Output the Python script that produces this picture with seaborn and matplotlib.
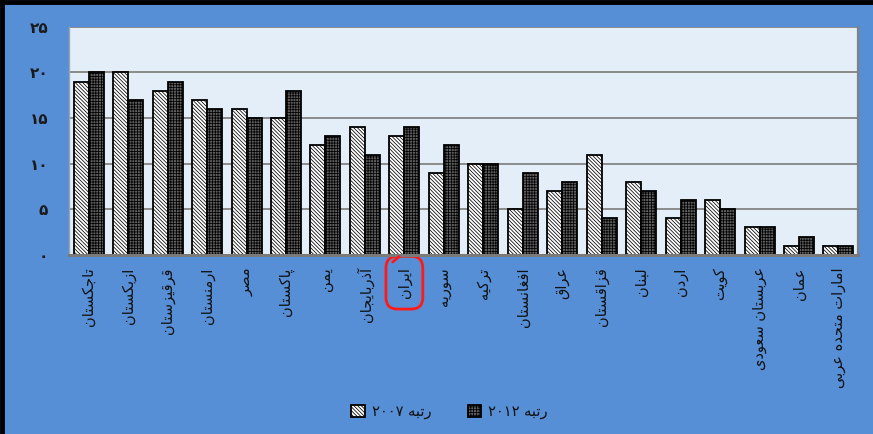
import re
import matplotlib
matplotlib.use("Agg")
import matplotlib.pyplot as plt
import seaborn as sns
import pandas as pd
from matplotlib.lines import Line2D

# ---------------- data ----------------
countries = ["تاجکستان", "ازبکستان", "قرقیزستان", "ارمنستان", "مصر", "پاکستان",
             "یمن", "آذربایجان", "ایران", "سوریه", "ترکیه", "افغانستان", "عراق",
             "قزاقستان", "لبنان", "اردن", "کویت", "عربستان سعودی", "عمان",
             "امارات متحده عربی"]
rank_2007 = [19, 20, 18, 17, 16, 15, 12, 14, 13, 9, 10, 5, 7, 11, 8, 4, 6, 3, 1, 1]
rank_2012 = [20, 17, 19, 16, 15, 18, 13, 11, 14, 12, 10, 9, 8, 4, 7, 6, 5, 3, 2, 1]
series_labels = ["رتبه ۲۰۰۷", "رتبه ۲۰۱۲"]
y_ticks = [0, 5, 10, 15, 20, 25]
y_tick_labels = ["۰", "۵", "۱۰", "۱۵", "۲۰", "۲۵"]
highlight = "ایران"

# ---------------- minimal Persian shaping ----------------
FORMS = {
    "ا": (0xFE8D, 0xFE8E), "آ": (0xFE81, 0xFE82), "د": (0xFEA9, 0xFEAA),
    "ذ": (0xFEAB, 0xFEAC), "ر": (0xFEAD, 0xFEAE), "ز": (0xFEAF, 0xFEB0),
    "ژ": (0xFB8A, 0xFB8B), "و": (0xFEED, 0xFEEE), "ة": (0xFE93, 0xFE94),
    "ب": (0xFE8F, 0xFE90, 0xFE91, 0xFE92), "پ": (0xFB56, 0xFB57, 0xFB58, 0xFB59),
    "ت": (0xFE95, 0xFE96, 0xFE97, 0xFE98), "ث": (0xFE99, 0xFE9A, 0xFE9B, 0xFE9C),
    "ج": (0xFE9D, 0xFE9E, 0xFE9F, 0xFEA0), "چ": (0xFB7A, 0xFB7B, 0xFB7C, 0xFB7D),
    "ح": (0xFEA1, 0xFEA2, 0xFEA3, 0xFEA4), "خ": (0xFEA5, 0xFEA6, 0xFEA7, 0xFEA8),
    "س": (0xFEB1, 0xFEB2, 0xFEB3, 0xFEB4), "ش": (0xFEB5, 0xFEB6, 0xFEB7, 0xFEB8),
    "ص": (0xFEB9, 0xFEBA, 0xFEBB, 0xFEBC), "ض": (0xFEBD, 0xFEBE, 0xFEBF, 0xFEC0),
    "ط": (0xFEC1, 0xFEC2, 0xFEC3, 0xFEC4), "ظ": (0xFEC5, 0xFEC6, 0xFEC7, 0xFEC8),
    "ع": (0xFEC9, 0xFECA, 0xFECB, 0xFECC), "غ": (0xFECD, 0xFECE, 0xFECF, 0xFED0),
    "ف": (0xFED1, 0xFED2, 0xFED3, 0xFED4), "ق": (0xFED5, 0xFED6, 0xFED7, 0xFED8),
    "ک": (0xFB8E, 0xFB8F, 0xFB90, 0xFB91), "گ": (0xFB92, 0xFB93, 0xFB94, 0xFB95),
    "ل": (0xFEDD, 0xFEDE, 0xFEDF, 0xFEE0), "م": (0xFEE1, 0xFEE2, 0xFEE3, 0xFEE4),
    "ن": (0xFEE5, 0xFEE6, 0xFEE7, 0xFEE8), "ه": (0xFEE9, 0xFEEA, 0xFEEB, 0xFEEC),
    "ی": (0xFBFC, 0xFBFD, 0xFBFE, 0xFBFF),
}


def fa(text):
    out = []
    for i, ch in enumerate(text):
        f = FORMS.get(ch)
        if f is None:
            out.append(ch)
            continue
        prev = text[i - 1] if i > 0 else ""
        nxt = text[i + 1] if i + 1 < len(text) else ""
        jp = prev in FORMS and len(FORMS[prev]) == 4
        jn = len(f) == 4 and nxt in FORMS
        if jp and jn:
            c = f[3]
        elif jp:
            c = f[1]
        elif jn:
            c = f[2]
        else:
            c = f[0]
        out.append(chr(c))
    shaped = "".join(out)
    toks = re.findall(r"[0-9۰-۹]+|[^0-9۰-۹]+", shaped)
    return "".join(t if re.match(r"[0-9۰-۹]", t) else t[::-1] for t in reversed(toks))


# ---------------- plot ----------------
BLUE = "#568fd6"
plt.rcParams["font.family"] = ["DejaVu Sans"]
plt.rcParams["hatch.linewidth"] = 0.55

df = pd.DataFrame({
    "country": countries * 2,
    "value": rank_2007 + rank_2012,
    "series": [series_labels[0]] * len(countries) + [series_labels[1]] * len(countries),
})

fig = plt.figure(figsize=(8.73, 4.34), dpi=100, facecolor=BLUE)
ax = fig.add_axes([0.079, 0.413, 0.904, 0.525])
ax.set_facecolor("#e4eef9")

sns.barplot(data=df, x="country", y="value", hue="series", order=countries,
            hue_order=series_labels, palette=["#ffffff", "#5f5f5f"],
            edgecolor="black", linewidth=1.3, width=0.76, ax=ax, legend=False)

hatches = ["\\" * 9, "+" * 6]
for cont, h in zip(ax.containers, hatches):
    for p in cont:
        p.set_hatch(h)

ax.set_ylim(0, 25)
ax.set_yticks(y_ticks)
ax.set_yticklabels(y_tick_labels, fontsize=11, fontweight="bold", color="#1a1a1a")
ax.yaxis.grid(True, color="#7a7a7a", linewidth=1.2)
ax.set_axisbelow(True)
ax.tick_params(axis="both", length=0)
ax.tick_params(axis="y", pad=15)

ax.set_xticks(range(len(countries)))
ax.set_xticklabels([fa(c) for c in countries], rotation=90, fontsize=10.5,
                   color="#111111", va="top", ha="center")
ax.tick_params(axis="x", pad=9)
ax.set_xlabel("")
ax.set_ylabel("")

ax.spines["top"].set_visible(False)
ax.spines["left"].set_color("#9aa6b4")
ax.spines["left"].set_linewidth(1.0)
ax.spines["right"].set_color("#808080")
ax.spines["right"].set_linewidth(1.6)
ax.spines["bottom"].set_color("#7a7a7a")
ax.spines["bottom"].set_linewidth(2.2)

# highlight Iran label
idx = countries.index(highlight)
lab = ax.get_xticklabels()[idx]
lab.set_bbox(dict(boxstyle="round,pad=0.75,rounding_size=0.8", fc="none",
                  ec="#ff1a1a", lw=2))
ax.annotate("", xy=(idx - 0.08, 0), xycoords=ax.get_xaxis_transform(),
            xytext=(idx - 0.35, -0.04), textcoords=ax.get_xaxis_transform(),
            arrowprops=dict(arrowstyle="-", color="#ff1a1a", lw=2),
            annotation_clip=False)

leg = fig.legend(ax.containers, [fa(s) for s in series_labels], loc="center",
                 bbox_to_anchor=(0.515, 0.052), ncol=2, frameon=False,
                 handlelength=0.9, handleheight=0.9, columnspacing=2.5,
                 handletextpad=0.5, fontsize=10.5)
for t in leg.get_texts():
    t.set_color("#111111")

# screenshot frame (top / left black border)
fig.add_artist(Line2D([0, 1], [0.996, 0.996], transform=fig.transFigure,
                      color="black", lw=3.5))
fig.add_artist(Line2D([0.002, 0.002], [0, 1], transform=fig.transFigure,
                      color="black", lw=3.5))

fig.savefig("out.png", dpi=100, facecolor=BLUE)
